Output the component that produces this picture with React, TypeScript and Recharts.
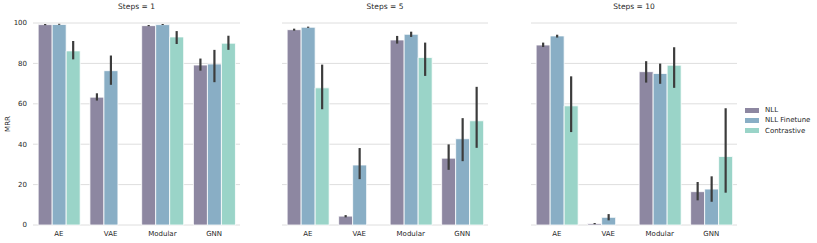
import { Bar, BarChart, CartesianGrid, ErrorBar, XAxis, YAxis } from 'recharts'

const categories = ['AE', 'VAE', 'Modular', 'GNN']
const steps = ['1', '5', '10']
const yTicks = [0, 20, 40, 60, 80, 100]

// one row per Steps panel (1, 5, 10), one value per category
const nll = [
  [99.2, 63.3, 98.7, 79.2],
  [96.7, 4.4, 91.6, 33.1],
  [89.1, 0.7, 75.9, 16.5],
]
const nllCI = [
  [[98.9, 99.5], [61.6, 65.2], [98.4, 99.0], [76.4, 82.4]],
  [[96.2, 97.2], [3.8, 4.9], [89.8, 93.6], [27.3, 39.9]],
  [[88.1, 90.3], [0.4, 1.0], [70.5, 81.1], [12.2, 21.3]],
]
const finetune = [
  [99.3, 76.4, 99.2, 79.7],
  [97.9, 29.7, 94.4, 42.7],
  [93.6, 3.8, 75.0, 17.8],
]
const finetuneCI = [
  [[99.1, 99.6], [69.4, 83.9], [99.0, 99.5], [70.7, 86.7]],
  [[97.6, 98.2], [22.7, 38.1], [93.1, 95.7], [31.6, 52.9]],
  [[92.8, 94.2], [2.3, 5.4], [69.9, 79.9], [11.5, 24.1]],
]
const contrastive = [
  [86.2, null, 93.1, 90.0],
  [67.9, null, 82.9, 51.6],
  [59.0, null, 79.1, 33.9],
]
const contrastiveCI = [
  [[82.0, 91.1], null, [89.6, 96.0], [86.7, 93.7]],
  [[57.3, 79.4], null, [73.8, 90.3], [38.2, 68.4]],
  [[46.0, 73.6], null, [67.9, 88.0], [16.0, 57.8]],
]

const series = [
  { key: 'nll', name: 'NLL', color: '#8d87a1' },
  { key: 'finetune', name: 'NLL Finetune', color: '#89aec5' },
  { key: 'contrastive', name: 'Contrastive', color: '#9ad4c8' },
]

const FONT = '"DejaVu Sans", sans-serif'
const TEXT = '#262626'

function err(v: number | null, ci: number[] | null) {
  if (v == null || ci == null) return null
  return [v - ci[0], ci[1] - v]
}

function rows(p: number) {
  return categories.map((cat, i) => ({
    cat,
    nll: nll[p][i],
    nllErr: err(nll[p][i], nllCI[p][i]),
    finetune: finetune[p][i],
    finetuneErr: err(finetune[p][i], finetuneCI[p][i]),
    contrastive: contrastive[p][i],
    contrastiveErr: err(contrastive[p][i], contrastiveCI[p][i]),
  }))
}

const panels = [
  { left: 0, width: 240, axis: true },
  { left: 282, width: 206, axis: false },
  { left: 531, width: 206, axis: false },
]

function Panel({ p }: { p: number }) {
  const cfg = panels[p]
  return (
    <div style={{ position: 'absolute', left: cfg.left, top: 0 }}>
      <BarChart
        width={cfg.width}
        height={243}
        data={rows(p)}
        margin={{ top: 23, right: 0, left: 0, bottom: 0 }}
        barCategoryGap="10%"
        barGap={0}
      >
        <CartesianGrid horizontal vertical={false} stroke="#dedede" strokeWidth={1} />
        <XAxis
          dataKey="cat"
          height={18}
          axisLine={false}
          tickLine={false}
          tickSize={3}
          tickMargin={3}
          tick={{ fontSize: 7, fill: TEXT, fontFamily: FONT }}
          interval={0}
        />
        <YAxis
          domain={[0, 100]}
          ticks={yTicks}
          hide={!cfg.axis}
          width={33}
          axisLine={false}
          tickLine={false}
          tickSize={4}
          tickMargin={2}
          tick={{ fontSize: 7, fill: TEXT, fontFamily: FONT }}
        />
        {series.map((s) => (
          <Bar
            key={s.key}
            dataKey={s.key}
            fill={s.color}
            stroke="#ffffff"
            strokeWidth={0.8}
            isAnimationActive={false}
          >
            <ErrorBar dataKey={s.key + 'Err'} width={0} stroke="#3c3c3c" strokeWidth={2.2} />
          </Bar>
        ))}
      </BarChart>
      <div
        style={{
          position: 'absolute',
          top: 2,
          left: cfg.axis ? 33 : 0,
          width: cfg.axis ? cfg.width - 33 : cfg.width,
          textAlign: 'center',
          fontSize: 7.5,
          color: TEXT,
          fontFamily: FONT,
          lineHeight: '10px',
        }}
      >
        Steps = {steps[p]}
      </div>
    </div>
  )
}

export default function App() {
  return (
    <div
      style={{
        position: 'absolute',
        left: 0,
        top: 0,
        width: 817,
        height: 243,
        background: '#fff',
        fontFamily: FONT,
      }}
    >
      {panels.map((_, p) => (
        <Panel key={p} p={p} />
      ))}
      <div
        style={{
          position: 'absolute',
          left: 2,
          top: 124,
          transform: 'translate(-50%, -50%) rotate(-90deg)',
          marginLeft: 6,
          fontSize: 7,
          color: TEXT,
          whiteSpace: 'nowrap',
        }}
      >
        MRR
      </div>
      <div style={{ position: 'absolute', left: 745, top: 105 }}>
        {series.map((s) => (
          <div
            key={s.key}
            style={{ display: 'flex', alignItems: 'center', height: 10.3, fontSize: 7, color: TEXT }}
          >
            <span style={{ display: 'inline-block', width: 14, height: 5, background: s.color, marginRight: 6 }} />
            {s.name}
          </div>
        ))}
      </div>
    </div>
  )
}
